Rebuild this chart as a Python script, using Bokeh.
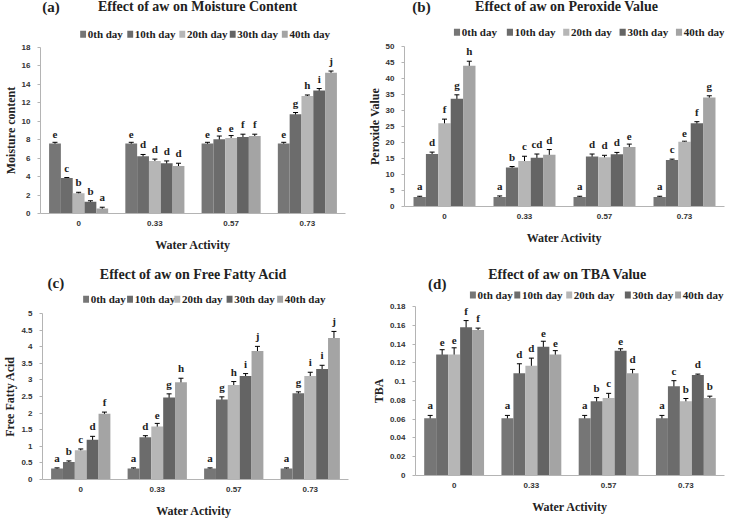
from bokeh.plotting import figure
from bokeh.models import (Range1d, FactorRange, SingleIntervalTicker, NumeralTickFormatter,
                          ColumnDataSource, Whisker, TeeHead, Label, BoxAnnotation)
from bokeh.transform import dodge
from bokeh.layouts import column, row
from bokeh.embed import file_html
from bokeh.resources import INLINE
from bokeh.core.properties import value

categories = ["0", "0.33", "0.57", "0.73"]
days = ["0th day", "10th day", "20th day", "30th day", "40th day"]
colors = ["#767676", "#6c6c6c", "#b6b6b6", "#646464", "#a4a4a4"]

# rows = water activity categories, columns = days
moisture_vals = [[7.6, 3.85, 2.2, 1.28, 0.53],
                 [7.6, 6.2, 5.7, 5.45, 5.15],
                 [7.6, 8.05, 8.2, 8.3, 8.4],
                 [7.6, 10.75, 12.75, 13.35, 15.25]]
moisture_err = [[0.12, 0.05, 0.1, 0.1, 0.15],
                [0.12, 0.2, 0.2, 0.25, 0.3],
                [0.12, 0.35, 0.25, 0.3, 0.2],
                [0.12, 0.2, 0.1, 0.2, 0.2]]
moisture_sig = [["e", "c", "b", "b", "a"],
                ["e", "d", "d", "d", "d"],
                ["e", "e", "e", "f", "f"],
                ["e", "g", "h", "i", "j"]]

peroxide_vals = [[3.0, 16.4, 26.0, 33.7, 44.0],
                 [3.0, 12.2, 14.2, 15.2, 16.2],
                 [3.0, 15.6, 15.4, 16.3, 18.6],
                 [3.0, 14.5, 20.2, 26.0, 34.1]]
peroxide_err = [[0.2, 0.6, 1.3, 1.2, 1.4],
                [0.3, 0.3, 1.5, 1.2, 1.6],
                [0.2, 0.8, 0.6, 0.6, 0.9],
                [0.2, 0.3, 0.2, 0.5, 0.5]]
peroxide_sig = [["a", "d", "f", "g", "h"],
                ["a", "b", "c", "cd", "d"],
                ["a", "d", "d", "d", "e"],
                ["a", "c", "e", "f", "g"]]

ffa_vals = [[0.33, 0.53, 0.88, 1.2, 1.98],
            [0.33, 1.27, 1.6, 2.47, 2.93],
            [0.33, 2.41, 2.85, 3.12, 3.87],
            [0.33, 2.6, 3.12, 3.33, 4.26]]
ffa_err = [[0.02, 0.03, 0.04, 0.1, 0.05],
           [0.02, 0.05, 0.09, 0.11, 0.12],
           [0.02, 0.08, 0.1, 0.07, 0.14],
           [0.02, 0.04, 0.11, 0.11, 0.2]]
ffa_sig = [["a", "b", "c", "d", "f"],
           ["a", "d", "e", "g", "h"],
           ["a", "g", "h", "i", "j"],
           ["a", "g", "i", "i", "j"]]

tba_vals = [[0.061, 0.129, 0.129, 0.158, 0.155],
            [0.061, 0.109, 0.117, 0.137, 0.129],
            [0.061, 0.079, 0.0825, 0.133, 0.109],
            [0.061, 0.095, 0.079, 0.107, 0.0825]]
tba_err = [[0.003, 0.005, 0.007, 0.007, 0.002],
           [0.003, 0.010, 0.008, 0.006, 0.004],
           [0.003, 0.004, 0.005, 0.002, 0.004],
           [0.003, 0.006, 0.003, 0.001, 0.002]]
tba_sig = [["a", "e", "e", "f", "f"],
           ["a", "d", "d", "e", "e"],
           ["a", "b", "c", "e", "d"],
           ["a", "c", "b", "d", "b"]]

W, H = 364, 260
SX = W / 369.0
SY = H / 262.0
BAR_W = 0.155
SERIF = "Liberation Serif"
SANS = "Liberation Sans"
TXT = "#222222"


def make_panel(tag, title, ylabel, xlabel, vals, errs, sigs, ymax, yint, geo, leg_x):
    (fl, fr, ft, fb, tcx, tcy, tagx, tagy, legy) = geo
    top_pad = 5
    hh = round(ft * SY) - top_pad
    hc = H - hh
    bl = round(fl * SX)
    br = W - round(fr * SX)
    bb = H - round(fb * SY)

    # ---- header: tag, title and legend ----
    hdr = figure(width=W, height=hh, x_range=Range1d(0, W), y_range=Range1d(0, hh),
                 output_backend="svg", toolbar_location=None, title=None,
                 x_axis_type=None, y_axis_type=None, min_border=0,
                 min_border_left=0, min_border_right=0, min_border_top=0,
                 min_border_bottom=0)
    hdr.outline_line_color = None
    hdr.xgrid.visible = False
    hdr.ygrid.visible = False
    hdr.add_layout(Label(x=tcx * SX, y=hh - tcy * SY, text=title, text_align="center",
                         text_baseline="middle", text_font=SERIF, text_font_style="bold",
                         text_font_size="14px", text_color=TXT))
    hdr.add_layout(Label(x=tagx * SX, y=hh - tagy * SY, text=tag, text_align="left",
                         text_baseline="middle", text_font=SERIF, text_font_style="bold",
                         text_font_size="15px", text_color=TXT))
    ly = max(hh - legy * SY, 6.5)
    for j, day in enumerate(days):
        g0 = leg_x[j] * SX
        hdr.add_layout(BoxAnnotation(left=g0, right=g0 + 7, bottom=ly - 3.5, top=ly + 3.5,
                                     fill_color=colors[j], fill_alpha=1.0, line_color=None))
        hdr.add_layout(Label(x=g0 + 7 + 2, y=ly, text=day, text_align="left",
                             text_baseline="middle", text_font=SERIF,
                             text_font_style="bold", text_font_size="11px",
                             text_color=TXT))

    # ---- chart ----
    p = figure(width=W, height=hc, x_range=FactorRange(*categories, range_padding=0),
               y_range=Range1d(0, ymax), output_backend="svg", toolbar_location=None,
               title=None,
               min_border_left=bl, min_border_right=br, min_border_top=top_pad,
               min_border_bottom=bb)
    p.outline_line_color = None
    p.xgrid.visible = False
    p.ygrid.visible = False

    for j, day in enumerate(days):
        off = (j - 2) * BAR_W
        top = [vals[i][j] for i in range(len(categories))]
        err = [errs[i][j] for i in range(len(categories))]
        src = ColumnDataSource(dict(
            cat=categories, top=top,
            upper=[t + e for t, e in zip(top, err)],
            lower=[t - e for t, e in zip(top, err)],
            sig=[sigs[i][j] for i in range(len(categories))]))
        p.vbar(x=dodge("cat", off, range=p.x_range), top="top", width=BAR_W * 0.999,
               source=src, fill_color=colors[j], line_color=None)
        wk = Whisker(base=dodge("cat", off, range=p.x_range), upper="upper", lower="lower",
                     source=src, line_color="black", line_width=1,
                     upper_head=TeeHead(size=5, line_color="black", line_width=1),
                     lower_head=TeeHead(size=5, line_color="black", line_width=1))
        p.add_layout(wk)
        p.text(x=dodge("cat", off, range=p.x_range), y="upper", text="sig", source=src,
               text_align="center", text_baseline="bottom", y_offset=-4,
               text_font=value(SERIF), text_font_style="bold", text_font_size="11px",
               text_color=TXT)

    p.yaxis.ticker = SingleIntervalTicker(interval=yint, num_minor_ticks=0)
    p.yaxis.formatter = NumeralTickFormatter(format="0.[00]")
    p.yaxis.axis_line_color = "#b4b4b4"
    p.yaxis.major_tick_line_color = "#b4b4b4"
    p.yaxis.major_tick_out = 3
    p.yaxis.major_tick_in = 0
    p.yaxis.minor_tick_line_color = None
    p.yaxis.major_label_standoff = 7
    p.yaxis.major_label_text_font = SANS
    p.yaxis.major_label_text_font_style = "bold"
    p.yaxis.major_label_text_font_size = "8px"
    p.yaxis.major_label_text_color = "#333333"
    p.yaxis.axis_label = ylabel
    p.yaxis.axis_label_standoff = 1
    p.yaxis.axis_label_text_font = SERIF
    p.yaxis.axis_label_text_font_style = "bold"
    p.yaxis.axis_label_text_font_size = "12px"
    p.yaxis.axis_label_text_color = TXT

    p.xaxis.axis_line_color = "#b4b4b4"
    p.xaxis.major_tick_line_color = None
    p.xaxis.major_tick_out = 0
    p.xaxis.major_tick_in = 0
    p.xaxis.minor_tick_line_color = None
    p.xaxis.major_label_standoff = 7
    p.xaxis.major_label_text_font = SANS
    p.xaxis.major_label_text_font_style = "bold"
    p.xaxis.major_label_text_font_size = "8px"
    p.xaxis.major_label_text_color = "#333333"
    p.xaxis.axis_label = xlabel
    p.xaxis.axis_label_standoff = 9
    p.xaxis.axis_label_text_font = SERIF
    p.xaxis.axis_label_text_font_style = "bold"
    p.xaxis.axis_label_text_font_size = "12px"
    p.xaxis.axis_label_text_color = TXT
    return column(hdr, p)


pa = make_panel("(a)", "Effect of aw on Moisture Content", "Moisture content", "Water Activity",
                moisture_vals, moisture_err, moisture_sig, 18, 2,
                (35, 350, 47, 215, 190, 6, 2, 7, 34), [48, 105, 168, 229, 292])
pb = make_panel("(b)", "Effect of aw on Peroxide Value", "Peroxide Value", "Water Activity",
                peroxide_vals, peroxide_err, peroxide_sig, 50, 5,
                (40, 365, 46, 208, 187, 6, 9, 7, 32), [57, 118, 183, 248, 313])
pc = make_panel("(c)", "Effect of aw on Free Fatty Acid", "Free Fatty Acid", "Water  Activity",
                ffa_vals, ffa_err, ffa_sig, 5, 0.5,
                (35, 353, 53, 223, 182, 14, 6, 23, 39), [49, 102, 159, 222, 283])
pd = make_panel("(d)", "Effect of aw on TBA Value", "TBA", "Water Activity",
                tba_vals, tba_err, tba_sig, 0.18, 0.02,
                (52, 365, 46, 217, 182, 14, 15, 24, 39), [65, 118, 180, 250, 310])

layout = column(row(pa, pb), row(pc, pd))
open("out.html", "w").write(file_html(layout, INLINE))
